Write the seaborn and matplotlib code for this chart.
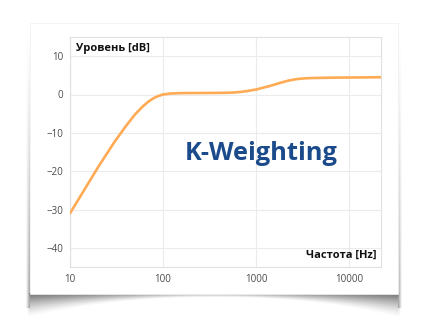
import numpy as np
import matplotlib
matplotlib.use("Agg")
import matplotlib.pyplot as plt
from matplotlib.patches import Rectangle
import seaborn as sns
import pandas as pd

# ---- data ----
freq_hz = [10, 20, 30, 40, 50, 60, 70, 80, 90, 100, 120, 150, 200, 300, 400, 500,
           600, 700, 800, 1000, 1200, 1400, 1800, 2200, 2700, 3300, 4000, 7000, 12000, 22050]
level_db = [-31.0, -19.0, -12.4, -8.2, -5.2, -3.2, -1.8, -0.9, -0.35, 0.0, 0.25, 0.35, 0.38, 0.4, 0.42, 0.45,
            0.55, 0.7, 0.9, 1.3, 1.8, 2.2, 3.0, 3.6, 4.0, 4.2, 4.3, 4.4, 4.45, 4.5]
x_ticks = [10, 100, 1000, 10000]
x_tick_labels = ["10", "100", "1000", "10000"]
y_ticks = [-40, -30, -20, -10, 0, 10]
y_label = "Уровень [dB]"
x_label = "Частота [Hz]"
title = "K-Weighting"

df = pd.DataFrame({"freq": freq_hz, "level": level_db})

sns.set_theme(style="white")
plt.rcParams["font.family"] = ["Open Sans", "DejaVu Sans"]

W, H = 423, 332
fig = plt.figure(figsize=(W / 100, H / 100), dpi=100)
fig.patch.set_facecolor("white")

# ---- background card with shadow ----
bg = fig.add_axes([0, 0, 1, 1])
bg.set_xlim(0, W)
bg.set_ylim(H, 0)
bg.axis("off")

cl, cr, ct, cb = 30, 398, 23, 293.5
yy, xx = np.mgrid[0:H, 0:W] + 0.5
rgba = np.zeros((H, W, 4))
rgba[..., :3] = 0.30
alpha = np.zeros((H, W))
# bottom curved shadow
u = (xx - (cl + cr) / 2) / ((cr - cl) / 2)
depth = 4 + 20 * np.clip(np.abs(u), 0, 1.02) ** 2.2
t = (yy - cb) / depth
inside_x = (xx > cl - 3) & (xx < cr + 3)
a_bottom = np.where((yy >= cb) & inside_x, np.clip(1 - t, 0, 1) ** 1.4, 0)
a_bottom *= 0.55 + 0.25 * np.clip(np.abs(u), 0, 1)
edge_fade = np.clip(1 - (np.maximum(cl - xx, xx - cr)) / 3, 0, 1)
a_bottom *= np.where((xx < cl) | (xx > cr), edge_fade, 1)
alpha = np.maximum(alpha, a_bottom)
# side shadows
vert = np.clip((yy - ct) / (cb - ct), 0, 1) ** 1.3
for side in ("l", "r"):
    if side == "l":
        dist = cl - xx
    else:
        dist = xx - cr
    a_side = np.where((dist >= 0) & (dist < 4) & (yy > ct) & (yy < cb + 15),
                      (1 - dist / 4) * 0.55 * vert, 0)
    alpha = np.maximum(alpha, a_side)
rgba[..., 3] = alpha
bg.imshow(rgba, extent=(0, W, H, 0), interpolation="bilinear", zorder=0)
bg.add_patch(Rectangle((cl, ct), cr - cl, cb - ct, facecolor="white", edgecolor="#f0f0f0",
                       linewidth=0.5, zorder=1))

# ---- main plot ----
left, right, top, bottom = 70, 381, 37, 267
ax = fig.add_axes([left / W, (H - bottom) / H, (right - left) / W, (bottom - top) / H])
ax.set_facecolor("white")
sns.lineplot(data=df, x="freq", y="level", ax=ax, color="#ffab55", linewidth=1.9, zorder=3)
ax.set_xscale("log")
ax.set_xlim(10, 22050)
ax.set_ylim(-45, 15)
ax.set_xticks(x_ticks)
ax.set_xticklabels(x_tick_labels)
ax.set_yticks(y_ticks)
ax.minorticks_off()
ax.set_yticklabels([("−" + str(-v)) if v < 0 else str(v) for v in y_ticks])
ax.grid(True, color="#ebebeb", linewidth=0.8, zorder=0)
ax.set_axisbelow(True)
for s in ax.spines.values():
    s.set_color("#e0e0e0")
    s.set_linewidth(0.8)
ax.tick_params(axis="both", length=0, labelsize=7, labelcolor="#4a4a4a")
ax.tick_params(axis="x", pad=5)
ax.tick_params(axis="y", pad=5)
ax.set_xlabel("")
ax.set_ylabel("")

ax.text(6 / (right - left), 1 - 14 / (bottom - top), y_label, transform=ax.transAxes,
        fontsize=8, fontweight="bold", color="#111111", ha="left", va="baseline")
ax.text(1 - 5 / (right - left), 9 / (bottom - top), x_label, transform=ax.transAxes,
        fontsize=8, fontweight="bold", color="#111111", ha="right", va="baseline")
ax.text((261 - left) / (right - left), 1 - (153 - top) / (bottom - top), title,
        transform=ax.transAxes, fontsize=18.3, fontweight="bold", color="#1c4b8c",
        ha="center", va="center", zorder=5)

fig.savefig("out.png", dpi=100, facecolor="white")
